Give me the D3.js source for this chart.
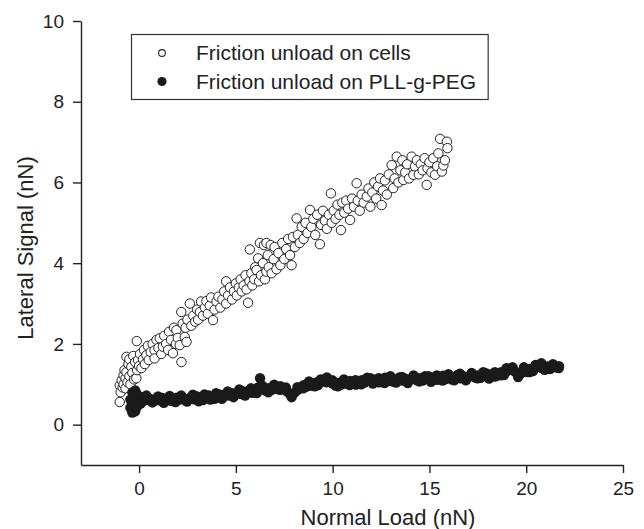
<!DOCTYPE html>
<html>
<head>
<meta charset="utf-8">
<script src="https://cdn.jsdelivr.net/npm/d3@7"></script>
<style>
  html, body { margin: 0; padding: 0; background: #fff; }
  svg { display: block; }
  text { font-family: "Liberation Sans", Arial, Helvetica, sans-serif; fill: #222; }
</style>
</head>
<body>
<svg id="chart" width="644" height="529"></svg>
<script>
// ---- data ----
const xTicks = [0, 5, 10, 15, 20, 25];
const yTicks = [0, 2, 4, 6, 8, 10];
const xLabel = "Normal Load (nN)";
const yLabel = "Lateral Signal (nN)";
const seriesNames = ["Friction unload on cells", "Friction unload on PLL-g-PEG"];

// Friction unload on cells (open circles): [normal load, lateral signal]
const cells = [
  [-1.0,0.56],[-1.0,0.97],[-0.95,0.8],[-0.9,1.1],[-0.85,0.92],[-0.8,1.22],[-0.8,1.0],[-0.75,1.35],[-0.7,0.9],[-0.7,1.15],
  [-0.65,1.68],[-0.65,1.3],[-0.6,1.05],[-0.55,1.5],[-0.5,1.2],[-0.5,1.62],[-0.45,1.0],[-0.4,1.43],[-0.35,1.28],[-0.3,1.7],
  [-0.25,1.12],[-0.2,1.55],[-0.14,1.15],[-0.12,2.07],[-0.1,1.35],[-0.05,1.6],[0.0,1.45],[0.05,1.75],[0.12,1.4],[0.2,1.62],
  [0.25,1.85],[0.3,1.5],[0.38,1.72],[0.45,1.95],[0.5,1.6],
  [0.6,1.8],[0.7,2.0],[0.8,1.84],[0.8,1.64],[0.9,2.1],[1.0,1.9],[1.07,2.14],[1.15,1.75],[1.23,1.93],[1.3,2.2],
  [1.4,2.0],[1.5,1.85],[1.55,2.3],[1.65,2.1],[1.75,1.77],[1.8,2.4],[1.9,2.0],[1.93,2.34],[2.0,2.15],[2.1,1.97],
  [2.19,1.55],[2.18,2.79],[2.25,2.5],[2.36,2.17],[2.4,2.4],[2.5,2.6],[2.45,2.05],
  [2.62,3.0],[2.7,2.45],[2.8,2.7],[2.9,2.55],[3.0,2.85],[3.05,2.6],[3.14,2.79],[3.2,3.05],[3.3,2.7],[3.4,2.9],
  [3.48,3.06],[3.55,2.75],[3.65,2.95],[3.72,3.15],[3.82,2.59],[3.9,2.85],[4.0,3.05],[4.1,3.17],[4.2,2.9],[4.3,3.1],
  [4.4,3.3],[4.5,3.0],[4.5,3.55],
  [4.6,3.2],[4.7,3.4],[4.8,3.1],[4.9,3.3],[5.0,3.5],[5.05,3.2],[5.15,3.4],[5.25,3.6],[5.3,3.3],[5.4,3.45],
  [5.5,3.7],[5.55,3.35],[5.63,3.02],[5.7,3.55],[5.72,4.34],[5.8,3.75],[5.85,3.45],[5.95,3.6],[6.0,3.9],
  [6.07,3.83],[6.15,4.12],[6.2,3.55],[6.24,4.5],[6.3,3.7],[6.4,4.0],[6.45,4.45],[6.5,3.6],[6.58,4.5],[6.58,3.79],
  [6.65,4.2],[6.7,3.9],[6.8,4.45],[6.85,3.75],[6.95,4.1],[7.0,4.4],[7.1,3.85],[7.2,4.25],[7.3,3.95],[7.4,4.5],
  [7.5,4.1],[7.6,4.35],[7.7,4.6],[7.8,4.2],[7.88,3.95],[7.95,4.65],
  [8.05,4.4],[8.14,5.11],[8.2,4.7],[8.3,4.5],[8.4,4.9],[8.5,4.6],[8.6,5.0],[8.7,4.75],[8.83,5.32],[8.9,4.9],
  [9.0,5.1],[9.1,4.7],[9.2,5.2],[9.34,4.47],[9.4,4.95],[9.5,5.3],[9.6,5.05],[9.7,4.85],[9.8,5.2],[9.91,5.73],[9.95,5.0],
  [10.05,5.3],[10.15,5.1],[10.25,5.45],[10.35,5.2],[10.43,4.82],[10.5,5.5],[10.6,5.25],[10.7,5.55],[10.8,5.35],[10.9,5.07],
  [11.0,5.6],[11.1,5.4],[11.24,5.98],[11.3,5.55],[11.4,5.3],[11.5,5.7],[11.6,5.5],[11.76,5.65],[11.85,5.85],[11.95,5.4],
  [12.05,5.75],[12.15,6.0],[12.25,5.6],[12.35,5.9],[12.45,6.1],[12.53,5.44],[12.6,5.8],[12.7,6.05],[12.8,5.7],[12.9,6.2],
  [13.05,6.43],[13.13,5.86],[13.2,6.1],[13.31,6.64],[13.4,6.0],[13.5,6.3],[13.6,6.55],[13.65,6.06],[13.75,6.25],[13.85,6.45],[13.95,6.1],
  [14.08,6.64],[14.17,6.19],[14.25,6.4],[14.35,6.55],[14.45,6.2],[14.55,6.45],[14.65,6.3],[14.75,6.6],[14.86,5.94],[14.9,6.35],
  [15.0,6.5],[15.1,6.25],[15.2,6.6],[15.29,6.19],[15.4,6.4],[15.46,6.72],[15.55,7.08],[15.64,6.27],[15.72,6.42],[15.9,7.01],
  [15.93,6.85],[15.8,6.55]
];

// Friction unload on PLL-g-PEG (filled circles): [normal load, lateral signal]
const pllgpeg = [
  [-0.35,0.3],[-0.3,0.35],[-0.25,0.4],[-0.35,0.45],[-0.3,0.5],[-0.25,0.55],[-0.35,0.6],[-0.3,0.65],[-0.25,0.7],[-0.3,0.75],
  [-0.35,0.8],[-0.2,0.85],[-0.3,0.4],[-0.2,0.5],[-0.15,0.6],[-0.2,0.33],[-0.45,0.42],[-0.45,0.62],[-0.1,0.45],[-0.1,0.75],
  [0.00,0.62],[0.15,0.68],[0.30,0.60],[0.45,0.66],[0.60,0.63],[0.75,0.58],[0.90,0.64],[1.05,0.60],[1.20,0.66],[1.35,0.62],
  [1.50,0.65],[1.65,0.59],[1.80,0.63],[1.95,0.67],[2.10,0.62],[2.25,0.66],[2.40,0.60],[2.55,0.64],[2.70,0.68],[2.85,0.63],
  [3.00,0.70],[3.15,0.65],[3.30,0.61],[3.45,0.67],[3.60,0.72],[3.75,0.68],[3.90,0.64],[4.05,0.70],[4.20,0.74],[4.35,0.69],
  [4.50,0.76],[4.65,0.72],[4.80,0.78],[4.95,0.74],[5.10,0.80],[5.25,0.76],[5.40,0.82],[5.55,0.78],[5.70,0.84],[5.85,0.79],
  [6.00,0.85],[6.15,0.92],[6.25,1.15],[6.40,0.88],[6.55,0.84],[6.70,0.90],[6.85,0.86],[7.00,0.93],[7.15,0.88],[7.30,0.95],
  [7.45,0.90],[7.60,0.84],[7.75,0.78],[7.90,0.74],[8.05,0.80],[8.20,0.86],[8.35,0.92],[8.50,0.98],[8.65,0.94],[8.80,1.00],
  [8.95,0.96],[9.10,1.04],[9.25,0.98],[9.40,1.06],[9.55,1.12],[9.70,1.17],[9.85,1.08],[10.00,1.02],[10.15,0.97],[10.30,1.03],
  [10.45,0.99],[10.60,1.06],[10.75,1.01],[10.90,1.08],[11.05,1.03],[11.20,0.99],[11.35,1.05],[11.50,1.10],[11.65,1.04],[11.80,1.09],
  [11.95,1.15],[12.10,1.07],[12.25,1.12],[12.40,1.05],[12.55,1.10],[12.70,1.16],[12.85,1.08],[13.00,1.13],[13.15,1.06],[13.30,1.11],
  [13.45,1.17],[13.60,1.09],[13.75,1.14],[13.90,1.08],[14.05,1.13],[14.20,1.18],[14.35,1.10],[14.50,1.15],[14.65,1.09],[14.80,1.14],
  [14.95,1.20],[15.10,1.12],[15.25,1.17],[15.40,1.11],[15.55,1.16],[15.70,1.21],[15.85,1.13],[16.00,1.18],[16.15,1.12],[16.30,1.17],
  [16.45,1.23],[16.60,1.15],[16.75,1.20],[16.90,1.14],[17.05,1.19],[17.20,1.25],[17.35,1.17],[17.50,1.22],[17.65,1.16],[17.80,1.21],
  [17.95,1.27],[18.10,1.20],[18.25,1.25],[18.40,1.19],[18.55,1.24],[18.70,1.30],[18.85,1.23],[19.00,1.33],[19.15,1.38],[19.30,1.42],
  [19.45,1.30],[19.60,1.22],[19.75,1.28],[19.90,1.35],[20.05,1.30],[20.20,1.38],[20.35,1.33],[20.50,1.42],[20.65,1.48],[20.80,1.40],
  [20.95,1.36],[21.10,1.44],[21.25,1.38],[21.40,1.46],[21.55,1.42],[21.70,1.45],
  [0.08,0.52],[0.38,0.72],[0.68,0.55],[0.98,0.70],[1.28,0.54],[1.58,0.71],[1.88,0.56],[2.18,0.72],[2.48,0.57],[2.78,0.74],
  [3.08,0.58],[3.38,0.75],[3.68,0.62],[3.98,0.78],[4.28,0.64],[4.58,0.82],[4.88,0.68],[5.18,0.87],[5.48,0.72],[5.78,0.90],
  [6.08,0.78],[6.38,0.96],[6.68,0.80],[6.98,0.99],[7.28,0.86],[7.58,0.92],[7.88,0.68],[8.18,0.93],[8.48,0.90],[8.78,1.07],
  [9.08,0.95],[9.38,1.12],[9.68,1.05],[9.98,1.10],[10.28,0.95],[10.58,1.12],[10.88,0.98],[11.18,1.10],[11.48,1.00],[11.78,1.16],
  [12.08,1.02],[12.38,1.15],[12.68,1.03],[12.98,1.20],[13.28,1.04],[13.58,1.18],[13.88,1.03],[14.18,1.22],[14.48,1.07],[14.78,1.20],
  [15.08,1.06],[15.38,1.22],[15.68,1.09],[15.98,1.25],[16.28,1.10],[16.58,1.26],[16.88,1.10],[17.18,1.28],[17.48,1.15],[17.78,1.30],
  [18.08,1.14],[18.38,1.30],[18.68,1.22],[18.98,1.40],[19.28,1.35],[19.58,1.18],[19.88,1.42],[20.18,1.30],[20.48,1.48],[20.78,1.52],
  [21.08,1.38],[21.38,1.50],[21.68,1.40]
];

// ---- drawing ----
const svg = d3.select("#chart");
const x = d3.scaleLinear().domain([-3, 25]).range([81, 623]);
const y = d3.scaleLinear().domain([-1, 10]).range([465, 21]);
const ink = "#222";

// points: cells (open) first, then PLL-g-PEG (filled) on top
svg.append("g").selectAll("circle").data(cells).join("circle")
  .attr("cx", d => x(d[0])).attr("cy", d => y(d[1])).attr("r", 4.7)
  .attr("fill", "#fff").attr("stroke", ink).attr("stroke-width", 1);

svg.append("g").selectAll("circle").data(pllgpeg).join("circle")
  .attr("cx", d => x(d[0])).attr("cy", d => y(d[1])).attr("r", 5.2)
  .attr("fill", "#1a1a1a");

// axes
const xAxis = d3.axisBottom(x).tickValues(xTicks).tickSize(8).tickSizeOuter(0).tickPadding(9).tickFormat(d3.format("d"));
const yAxis = d3.axisLeft(y).tickValues(yTicks).tickSize(8).tickSizeOuter(0).tickPadding(9).tickFormat(d3.format("d"));

const gx = svg.append("g").attr("transform", `translate(0,${y(-1)})`).call(xAxis);
const gy = svg.append("g").attr("transform", `translate(${x(-3)},0)`).call(yAxis);
[gx, gy].forEach(g => {
  g.selectAll("path, line").attr("stroke", ink).attr("stroke-width", 1.4);
  g.selectAll("text").style("font-size", "19px").attr("fill", ink)
    .style("font-family", "'Liberation Sans', Arial, sans-serif");
});

// axis titles
svg.append("text").attr("x", 388).attr("y", 525).attr("text-anchor", "middle")
  .style("font-size", "22px").text(xLabel);
svg.append("text").attr("transform", "translate(33,248) rotate(-90)").attr("text-anchor", "middle")
  .style("font-size", "22px").text(yLabel);

// legend
const leg = svg.append("g");
const rowY = [53, 81.5];
const legFont = 21;
const texts = leg.selectAll("text.lt").data(seriesNames).join("text").attr("class", "lt")
  .attr("x", 196).attr("y", (d, i) => rowY[i]).attr("dy", "0.35em")
  .style("font-size", legFont + "px").text(d => d);
let maxW = 0;
texts.each(function() { maxW = Math.max(maxW, this.getComputedTextLength()); });
leg.insert("rect", ":first-child").attr("x", 131.5).attr("y", 34.5).attr("width", 196 + maxW + 12 - 131.5).attr("height", 65)
  .attr("fill", "#fff").attr("stroke", "#333").attr("stroke-width", 1.2);
leg.append("circle").attr("cx", 162).attr("cy", rowY[0]).attr("r", 3.4)
  .attr("fill", "#fff").attr("stroke", ink).attr("stroke-width", 1.1);
leg.append("circle").attr("cx", 162).attr("cy", rowY[1]).attr("r", 4.6).attr("fill", "#1a1a1a");
</script>
</body>
</html>
